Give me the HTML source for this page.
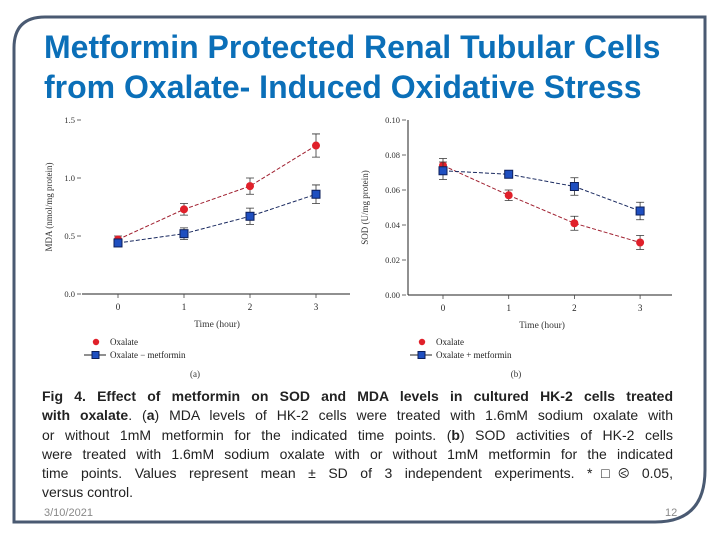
<!DOCTYPE html>
<html><head><meta charset="utf-8">
<style>
html,body{margin:0;padding:0;background:#fff;}
body{width:720px;height:540px;position:relative;overflow:hidden;font-family:"Liberation Sans",sans-serif;}
.title{position:absolute;left:44px;top:27px;font-size:32px;font-weight:bold;color:#0b6fb8;line-height:40px;letter-spacing:0px;white-space:nowrap;}
.cap{position:absolute;left:42px;top:387px;width:631px;font-size:14px;line-height:19.3px;color:#222;}
.cap div{text-align:justify;text-align-last:justify;white-space:nowrap;}
.cap div.last{text-align-last:left;}
.foot{position:absolute;top:507px;font-size:11px;color:#888;}
svg text{font-family:"Liberation Serif",serif;}
</style></head><body>
<svg width="720" height="540" style="position:absolute;left:0;top:0">
<path d="M14,522 L14,48 Q14,17 45,17 L705,17 L705,470 Q705,522 655,522 Z" fill="none" stroke="#4a5a72" stroke-width="3"/>
</svg>
<div class="title">Metformin Protected Renal Tubular Cells<br>from Oxalate- Induced Oxidative Stress</div>
<svg id="chartA" width="720" height="540" style="position:absolute;left:0;top:0"></svg>
<div class="cap">
<div style="white-space:normal"><b>Fig 4. Effect of metformin on SOD and MDA levels in cultured HK-2 cells treated</b></div>
<div style="white-space:normal"><b>with oxalate</b>. (<b>a</b>) MDA levels of HK-2 cells were treated with 1.6mM sodium oxalate with</div>
<div style="white-space:normal">or without 1mM metformin for the indicated time points. (<b>b</b>) SOD activities of HK-2 cells</div>
<div style="white-space:normal">were treated with 1.6mM sodium oxalate with or without 1mM metformin for the indicated</div>
<div style="white-space:normal">time points. Values represent mean ± SD of 3 independent experiments. *□⧀ 0.05,</div>
<div class="last">versus control.</div>
</div>
<div class="foot" style="left:44px">3/10/2021</div>
<div class="foot" style="left:665px">12</div>
<script>
const times=[0,1,2,3];
const mdaOxalate=[0.47,0.73,0.93,1.28];
const mdaOxalateErr=[0.03,0.05,0.07,0.10];
const mdaMetformin=[0.44,0.52,0.67,0.86];
const mdaMetforminErr=[0.03,0.05,0.07,0.08];
const mdaTicks=[0.0,0.5,1.0,1.5];
const sodOxalate=[0.074,0.057,0.041,0.030];
const sodOxalateErr=[0.004,0.003,0.004,0.004];
const sodMetformin=[0.071,0.069,0.062,0.048];
const sodMetforminErr=[0.005,0.002,0.005,0.005];
const sodTicks=[0.00,0.02,0.04,0.06,0.08,0.10];
const svg=document.getElementById('chartA');
const NS='http://www.w3.org/2000/svg';
function mk(tag,attrs,txt){const e=document.createElementNS(NS,tag);for(const k in attrs)e.setAttribute(k,attrs[k]);if(txt!==undefined)e.textContent=txt;svg.appendChild(e);return e;}
function panel(cfg){
  const xs=t=>cfg.x0+t*cfg.dx;
  const ys=v=>cfg.y0-(v/cfg.ymax)*(cfg.y0-cfg.y1);
  let e=mk('line',{x1:cfg.axL,y1:cfg.y0,x2:cfg.axR,y2:cfg.y0,stroke:'#222','stroke-width':1});
  
  
  if(cfg.yaxis){e=mk('line',{x1:cfg.yaxis,y1:cfg.y0,x2:cfg.yaxis,y2:cfg.y1,stroke:'#222','stroke-width':1});
  
  }
  cfg.ticks.forEach(v=>{
    e=mk('text',{x:cfg.tickX,y:ys(v)+3,'font-size':8.5,'text-anchor':'end',fill:'#333'},cfg.fmt(v));
    
    
    mk('line',{x1:cfg.tickX+2,y1:ys(v),x2:cfg.tickX+6,y2:ys(v),stroke:'#444','stroke-width':0.8});
  });
  times.forEach(t=>{
    mk('line',{x1:xs(t),y1:cfg.y0,x2:xs(t),y2:cfg.y0+4,stroke:'#444','stroke-width':0.8});
    e=mk('text',{x:xs(t),y:cfg.y0+16,'font-size':9,'text-anchor':'middle',fill:'#222'},String(t));
    
    
  });
  e=mk('text',{x:cfg.xtX,y:cfg.y0+33,'font-size':9.5,'text-anchor':'middle',fill:'#333'},'Time (hour)');
  
  
  e=mk('text',{x:0,y:0,'font-size':9,'text-anchor':'middle',fill:'#333',transform:'translate('+cfg.ytX+','+((cfg.y0+cfg.y1)/2)+') rotate(-90)'},cfg.ytitle);
  
  
  const series=[[cfg.ox,cfg.oxE,'#e0202a','circle','oxalate'],[cfg.mt,cfg.mtE,'#1f4fc0','square','metformin']];
  series.forEach(([vals,errs,col,shape,nm])=>{
    let d='';vals.forEach((v,i)=>{d+=(i?'L':'M')+xs(times[i])+','+ys(v);});
    e=mk('path',{d:d,fill:'none',stroke:shape==='circle'?'#a02030':'#1a2a60','stroke-width':1,'stroke-dasharray':'4,2'});
    
    
    vals.forEach((v,i)=>{
      const x=xs(times[i]);
      mk('path',{d:'M'+x+','+ys(v-errs[i])+'L'+x+','+ys(v+errs[i])+'M'+(x-4)+','+ys(v-errs[i])+'L'+(x+4)+','+ys(v-errs[i])+'M'+(x-4)+','+ys(v+errs[i])+'L'+(x+4)+','+ys(v+errs[i]),stroke:'#333','stroke-width':0.8,fill:'none'});
      if(shape==='circle'){e=mk('circle',{cx:x,cy:ys(v),r:4,fill:col});}
      else{e=mk('rect',{x:x-4,y:ys(v)-4,width:8,height:8,fill:col,stroke:'#0d1f5a','stroke-width':1});}
      
      
    });
  });
  const lx=cfg.legX;
  e=mk('circle',{cx:lx+12,cy:342,r:3.2,fill:'#e0202a'});
  
  
  mk('text',{x:lx+26,y:345,'font-size':9,fill:'#222'},'Oxalate');
  mk('line',{x1:lx,y1:355,x2:lx+22,y2:355,stroke:'#222','stroke-width':1});
  e=mk('rect',{x:lx+8,y:351.5,width:7,height:7,fill:'#1f4fc0',stroke:'#0d1f5a'});
  
  
  mk('text',{x:lx+26,y:358,'font-size':9,fill:'#222'},cfg.legTxt);
  e=mk('text',{x:cfg.subX,y:377,'font-size':9,'text-anchor':'middle',fill:'#333'},cfg.sub);
  
  
}
panel({id:'mda',x0:118,dx:66,y0:294,y1:120,ymax:1.5,axL:82,axR:350,yaxis:0,ticks:mdaTicks,fmt:v=>v.toFixed(1),tickX:75,xtX:217,ytX:52,ytitle:'MDA (nmol/mg protein)',ox:mdaOxalate,oxE:mdaOxalateErr,mt:mdaMetformin,mtE:mdaMetforminErr,legX:84,legTxt:'Oxalate − metformin',subX:195,sub:'(a)'});
panel({id:'sod',x0:443,dx:65.7,y0:295,y1:120,ymax:0.10,axL:408,axR:672,yaxis:408,ticks:sodTicks,fmt:v=>v.toFixed(2),tickX:400,xtX:542,ytX:368,ytitle:'SOD (U/mg protein)',ox:sodOxalate,oxE:sodOxalateErr,mt:sodMetformin,mtE:sodMetforminErr,legX:410,legTxt:'Oxalate + metformin',subX:516,sub:'(b)'});
</script>
</body></html>
